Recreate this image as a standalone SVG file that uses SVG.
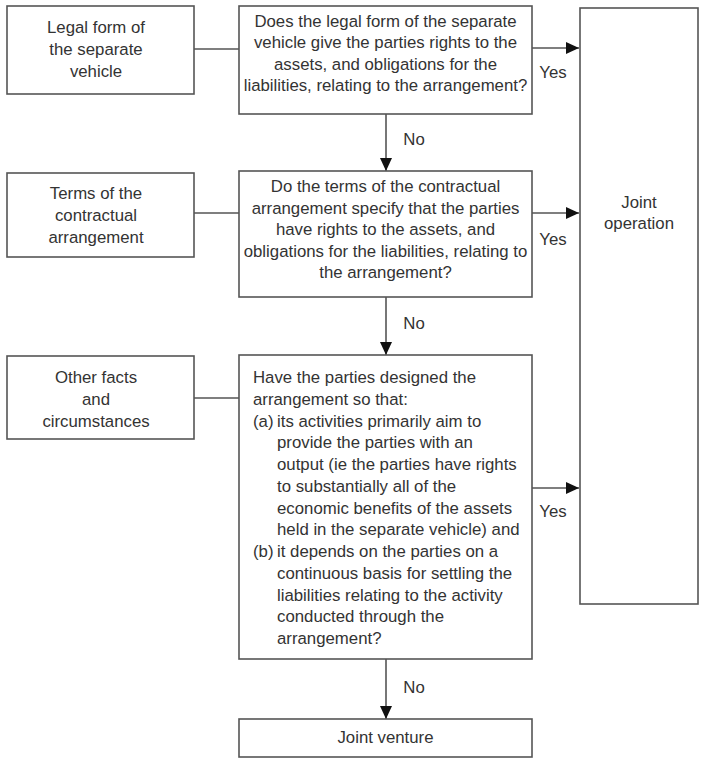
<svg xmlns="http://www.w3.org/2000/svg" width="705" height="764" viewBox="0 0 705 764">
<style>
.box{fill:#fff;stroke:#555;stroke-width:1.6}
.t{font-family:"Liberation Sans",Arial,sans-serif;font-size:16.8px;fill:#333}
.c{text-anchor:middle}
.ln{stroke:#555;stroke-width:1.6;fill:none}
</style>
<defs>
<marker id="ah" markerUnits="userSpaceOnUse" markerWidth="14" markerHeight="12" refX="13" refY="6" orient="auto">
<path d="M0,0 L13,6 L0,12 Z" fill="#111"/>
</marker>
</defs>
<rect width="705" height="764" fill="#fff"/>
<g id="connectors">
<line class="ln" x1="194" y1="49" x2="239" y2="49"/>
<line class="ln" x1="194" y1="213" x2="239" y2="213"/>
<line class="ln" x1="194" y1="398" x2="239" y2="398"/>
<line class="ln" x1="532" y1="48" x2="579" y2="48" marker-end="url(#ah)"/>
<line class="ln" x1="532" y1="213" x2="579" y2="213" marker-end="url(#ah)"/>
<line class="ln" x1="532" y1="488" x2="579" y2="488" marker-end="url(#ah)"/>
<line class="ln" x1="386" y1="114" x2="386" y2="171" marker-end="url(#ah)"/>
<line class="ln" x1="386" y1="297" x2="386" y2="355" marker-end="url(#ah)"/>
<line class="ln" x1="386" y1="659" x2="386" y2="719" marker-end="url(#ah)"/>
<text class="t c" x="553" y="78">Yes</text>
<text class="t c" x="553" y="245">Yes</text>
<text class="t c" x="553" y="517">Yes</text>
<text class="t c" x="414" y="145">No</text>
<text class="t c" x="414" y="329">No</text>
<text class="t c" x="414" y="693">No</text>
</g>
<g id="legal-form">
<rect class="box" x="7" y="6" width="187" height="88"/>
<text class="t c" x="96" y="33">Legal form of</text>
<text class="t c" x="96" y="55">the separate</text>
<text class="t c" x="96" y="77">vehicle</text>
</g>
<g id="q1">
<rect class="box" x="239" y="6" width="293" height="108"/>
<text class="t c" x="385.5" y="27">Does the legal form of the separate</text>
<text class="t c" x="385.5" y="48.3">vehicle give the parties rights to the</text>
<text class="t c" x="385.5" y="69.6">assets, and obligations for the</text>
<text class="t c" x="385.5" y="91">liabilities, relating to the arrangement?</text>
</g>
<g id="joint-operation">
<rect class="box" x="580" y="8" width="118" height="596"/>
<text class="t c" x="639" y="208">Joint</text>
<text class="t c" x="639" y="229">operation</text>
</g>
<g id="terms">
<rect class="box" x="7" y="173" width="187" height="84"/>
<text class="t c" x="96" y="199">Terms of the</text>
<text class="t c" x="96" y="221">contractual</text>
<text class="t c" x="96" y="243">arrangement</text>
</g>
<g id="q2">
<rect class="box" x="239" y="171" width="293" height="126"/>
<text class="t c" x="385.5" y="192">Do the terms of the contractual</text>
<text class="t c" x="385.5" y="213.5">arrangement specify that the parties</text>
<text class="t c" x="385.5" y="235">have rights to the assets, and</text>
<text class="t c" x="385.5" y="256.5">obligations for the liabilities, relating to</text>
<text class="t c" x="385.5" y="278">the arrangement?</text>
</g>
<g id="other-facts">
<rect class="box" x="7" y="356" width="187" height="83"/>
<text class="t c" x="96" y="383">Other facts</text>
<text class="t c" x="96" y="405">and</text>
<text class="t c" x="96" y="427">circumstances</text>
</g>
<g id="q3">
<rect class="box" x="239" y="355" width="293" height="304"/>
<text class="t" x="253" y="383">Have the parties designed the</text>
<text class="t" x="253" y="404.75">arrangement so that:</text>
<text class="t" x="253" y="426.5">(a)</text>
<text class="t" x="277" y="426.5">its activities primarily aim to</text>
<text class="t" x="277" y="448.25">provide the parties with an</text>
<text class="t" x="277" y="470">output (ie the parties have rights</text>
<text class="t" x="277" y="491.75">to substantially all of the</text>
<text class="t" x="277" y="513.5">economic benefits of the assets</text>
<text class="t" x="277" y="535.25">held in the separate vehicle) and</text>
<text class="t" x="253" y="557">(b)</text>
<text class="t" x="277" y="557">it depends on the parties on a</text>
<text class="t" x="277" y="578.75">continuous basis for settling the</text>
<text class="t" x="277" y="600.5">liabilities relating to the activity</text>
<text class="t" x="277" y="622.25">conducted through the</text>
<text class="t" x="277" y="644">arrangement?</text>
</g>
<g id="joint-venture">
<rect class="box" x="239" y="719" width="293" height="38"/>
<text class="t c" x="385.5" y="743">Joint venture</text>
</g>
</svg>
